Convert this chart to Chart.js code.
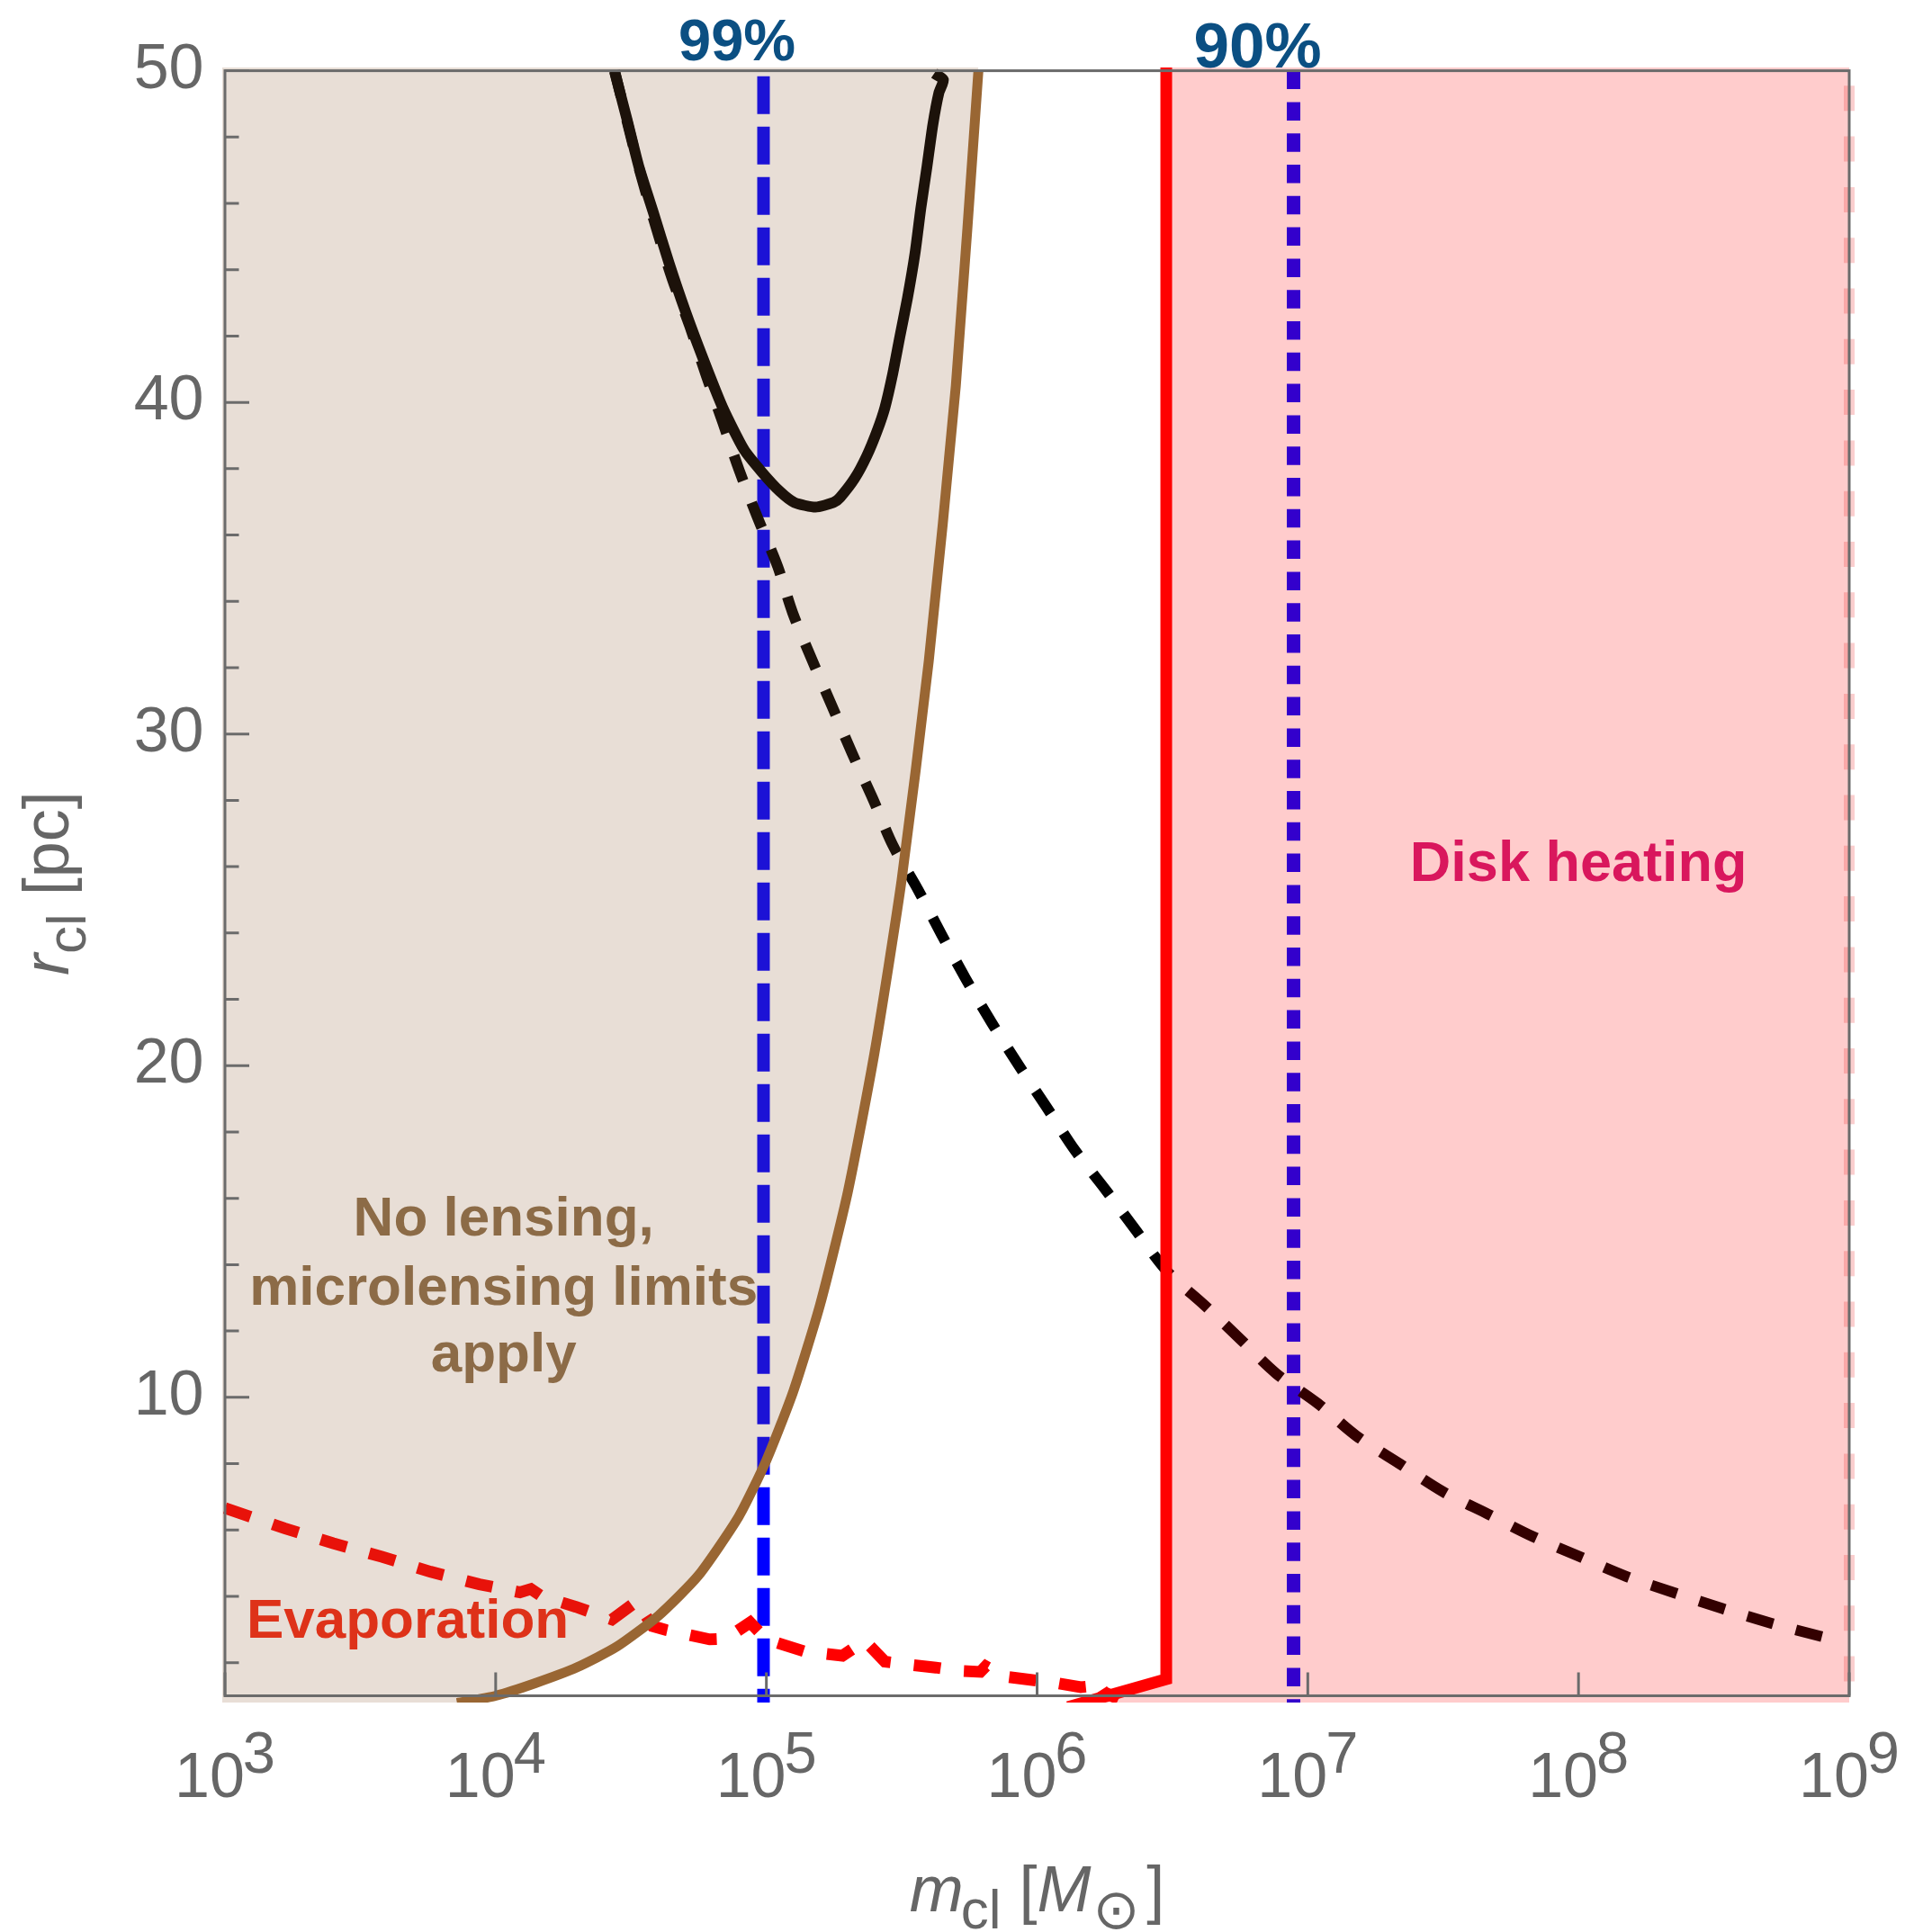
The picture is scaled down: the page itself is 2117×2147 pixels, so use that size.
<!DOCTYPE html>
<html>
<head>
<meta charset="utf-8">
<script src="https://cdn.jsdelivr.net/npm/chart.js@4.4.1/dist/chart.umd.min.js"></script>
<style>
  html, body { margin: 0; padding: 0; background: #ffffff; }
  #wrap { width: 2117px; height: 2147px; }
</style>
</head>
<body>
<div id="wrap"><canvas id="plot" width="2117" height="2147"></canvas></div>
<script>
// ---- cluster mass m_cl [M_sun] versus cluster radius r_cl [pc] ----

// edge of the region where clusters do not lens (microlensing limits apply)
const lensEdgeM = [7.2e3, 1.0e4, 1.4e4, 2.0e4, 2.8e4, 4.0e4, 5.6e4, 7.9e4, 1.0e5, 1.26e5, 1.58e5, 2.0e5, 2.51e5, 3.16e5, 3.98e5, 5.01e5, 6.07e5];
const lensEdgeR = [0.78, 1.0, 1.38, 1.86, 2.48, 3.42, 4.62, 6.40, 8.1, 10.2, 12.8, 16.2, 20.4, 25.6, 32.2, 40.5, 50.0];

// closed (solid black) contour
const contourM = [2.75e4, 3.05e4, 3.38e4, 3.85e4, 4.37e4, 5.02e4, 5.85e4, 6.90e4, 8.26e4, 9.62e4, 1.12e5, 1.27e5, 1.52e5, 1.77e5, 1.87e5, 2.12e5, 2.35e5, 2.57e5, 2.74e5, 2.92e5, 3.11e5, 3.32e5, 3.54e5, 3.72e5, 3.92e5, 4.12e5, 4.34e5, 4.51e5, 4.17e5];
const contourR = [49.97, 48.56, 47.11, 45.65, 44.20, 42.75, 41.30, 39.84, 38.58, 37.90, 37.32, 36.98, 36.84, 36.98, 37.13, 37.71, 38.39, 39.16, 39.84, 40.81, 41.97, 43.14, 44.49, 45.85, 47.11, 48.37, 49.34, 49.73, 49.92];

// dashed black contour
const openM = [2.75e4, 3.35e4, 3.94e4, 4.50e4, 5.21e4, 6.0e4, 6.9e4, 7.94e4, 9.25e4, 1.10e5, 1.25e5, 1.47e5, 1.75e5, 2.07e5, 2.47e5, 2.93e5, 3.63e5, 4.44e5, 5.46e5, 6.79e5, 8.57e5, 1.08e6, 1.38e6, 1.79e6, 2.31e6, 3.02e6, 4.15e6, 5.64e6, 7.64e6, 1.09e7, 1.51e7, 2.19e7, 3.18e7, 4.63e7, 6.75e7, 1.0e8, 1.5e8, 2.23e8, 3.40e8, 5.19e8, 7.87e8, 9.1e8];
const openR = [50.0, 47.2, 45.2, 43.7, 42.3, 40.8, 39.4, 37.95, 36.55, 35.06, 33.66, 32.26, 30.83, 29.43, 28.06, 26.65, 25.31, 23.95, 22.61, 21.3, 20.0, 18.77, 17.45, 16.26, 15.05, 13.8, 12.78, 11.75, 10.72, 9.81, 8.84, 7.99, 7.14, 6.48, 5.81, 5.21, 4.60, 4.12, 3.63, 3.18, 2.79, 2.68];

// evaporation limit
const evapM = [1.0e3, 1.66e3, 2.51e3, 3.80e3, 5.75e3, 8.71e3, 1.23e4, 1.35e4, 1.48e4, 1.98e4, 2.69e4, 3.31e4, 3.80e4, 4.27e4, 6.17e4, 7.08e4, 8.71e4, 1.0e5, 1.38e5, 1.91e5, 2.31e5, 2.74e5, 3.36e5, 4.23e5, 5.18e5, 6.17e5, 6.46e5, 7.59e5, 9.46e5, 1.17e6, 1.45e6, 1.62e6, 1.66e6, 1.76e6, 2.0e6];
const evapR = [6.66, 6.05, 5.60, 5.19, 4.74, 4.36, 4.12, 4.22, 4.00, 3.68, 3.30, 3.84, 3.10, 2.98, 2.70, 2.72, 3.21, 2.70, 2.34, 2.21, 2.66, 2.03, 1.94, 1.85, 1.75, 1.72, 1.89, 1.58, 1.48, 1.39, 1.26, 1.30, 1.44, 1.12, 0.90];

// disk heating limit
const diskM = [1.3e6, 3.0e6, 3.0e6];
const diskR = [0.66, 1.50, 50.1];

// confidence-level masses
const clNames = ['99%', '90%'];
const clMass = [9.76e4, 8.86e6];

// tick values
const xTickExp = [3, 4, 5, 6, 7, 8, 9];
const yMajor = [10, 20, 30, 40, 50];
const yMinor = [2, 4, 6, 8, 12, 14, 16, 18, 22, 24, 26, 28, 32, 34, 36, 38, 42, 44, 46, 48];

// ---- geometry ----
const W = 2117, H = 2147;
const X_RANGE = [1e3, 1e9], Y_RANGE = [1, 50];
const FRAME = { left: 250, right: 2055, top: 78.6, bottom: 1884.5 };
const AREA = { left: 247, right: 2062, top: 75, bottom: 1892 };
const lx0 = Math.log10(X_RANGE[0]), lx1 = Math.log10(X_RANGE[1]);
const kx = (lx1 - lx0) / (FRAME.right - FRAME.left);
const ky = (Y_RANGE[1] - Y_RANGE[0]) / (FRAME.bottom - FRAME.top);
const xMin = Math.pow(10, lx0 - (FRAME.left - AREA.left) * kx);
const xMax = Math.pow(10, lx1 + (AREA.right - FRAME.right) * kx);
const yMin = Y_RANGE[0] - (AREA.bottom - FRAME.bottom) * ky;
const yMax = Y_RANGE[1] + (FRAME.top - AREA.top) * ky;

const pts = (ms, rs) => ms.map((m, i) => ({ x: m, y: rs[i] }));

// region filled to the left of the lensing edge
const lensFill = [{ x: xMin, y: lensEdgeR[0] }].concat(pts(lensEdgeM, lensEdgeR), [{ x: lensEdgeM[lensEdgeM.length - 1], y: yMax }]);
// region filled to the right of the disk heating limit
const diskFill = pts(diskM, diskR).concat([{ x: X_RANGE[1], y: diskR[diskR.length - 1] }]);

const vline = (m, bottom) => [{ x: m, y: Y_RANGE[1] }, { x: m, y: bottom }];

const SANS = '"Liberation Sans", Arial, Helvetica, sans-serif';

const datasets = [
  { label: 'disk heating limit', data: pts(diskM, diskR), borderColor: '#ff0000', borderWidth: 13, fill: false, order: 1, borderJoinStyle: 'miter' },
  { label: 'lensing edge', data: pts(lensEdgeM, lensEdgeR), borderColor: '#996633', borderWidth: 11, tension: 0.2, fill: false, order: 2 },
  { label: 'lensing region', data: lensFill, borderWidth: 0, borderColor: 'rgba(0,0,0,0)', backgroundColor: 'rgba(140,90,50,0.2)', tension: 0.2, fill: 'end', order: 3 },
  { label: 'disk edge', data: vline(X_RANGE[1], Y_RANGE[0]), borderColor: 'rgba(235,60,60,0.25)', borderWidth: 12, borderDash: [28, 28.3], borderDashOffset: 39.6, borderCapStyle: 'butt', fill: false, order: 4 },
  { label: 'disk heating region', data: diskFill, borderWidth: 0, borderColor: 'rgba(0,0,0,0)', backgroundColor: 'rgba(255,0,0,0.2)', fill: 'start', order: 5 },
  { label: 'evaporation', data: pts(evapM, evapR), borderColor: '#ff0000', borderWidth: 13, borderDash: [30, 26], borderCapStyle: 'butt', fill: false, order: 6 },
  { label: 'closed contour', data: pts(contourM, contourR), borderColor: '#000000', borderWidth: 12, tension: 0.2, fill: false, order: 7 },
  { label: 'open contour', data: pts(openM, openR), borderColor: '#000000', borderWidth: 12, tension: 0.3, borderDash: [30, 26], borderCapStyle: 'butt', fill: false, order: 8 },
  { label: clNames[0], data: vline(clMass[0], yMin), borderColor: '#0000ff', borderWidth: 14, borderDash: [42, 14], borderDashOffset: 49.8, borderCapStyle: 'butt', fill: false, order: 9 },
  { label: clNames[1], data: vline(clMass[1], yMin), borderColor: '#0000ff', borderWidth: 15, borderDash: [20.5, 14.3], borderCapStyle: 'butt', fill: false, order: 10 }
];
datasets.forEach(d => { d.pointRadius = 0; d.clip = 0; if (d.tension === undefined) d.tension = 0; });

// text placed in data coordinates
const regionText = [
  { lines: ['No lensing,', 'microlensing limits', 'apply'], m: 1.07e4, r: [14.88, 12.79, 10.78], color: '#8c6b47', size: 62 },
  { lines: ['Evaporation'], m: 4.73e3, r: [2.75], color: '#de3219', size: 62 },
  { lines: ['Disk heating'], m: 1.0e8, r: [25.58], color: '#d9175d', size: 63 }
];
const clText = [
  { text: clNames[0], m: 7.79e4, r: 50.31, size: 65 },
  { text: clNames[1], m: 6.53e6, r: 50.10, size: 71 }
];

function drawRuns(ctx, runs, x, y, align) {
  let total = 0;
  runs.forEach(rn => { ctx.font = rn.font; rn.w = ctx.measureText(rn.t).width + (rn.kern || 0); total += rn.w; });
  let cx = align === 'center' ? x - total / 2 : x;
  runs.forEach(rn => {
    ctx.font = rn.font;
    ctx.fillText(rn.t, cx, y + (rn.dy || 0));
    cx += rn.w;
  });
}

const decor = {
  id: 'decor',
  afterDatasetsDraw(chart) {
    const { ctx } = chart;
    const xs = chart.scales.x, ys = chart.scales.y;
    const L = xs.getPixelForValue(X_RANGE[0]), R = xs.getPixelForValue(X_RANGE[1]);
    const T = ys.getPixelForValue(Y_RANGE[1]), B = ys.getPixelForValue(Y_RANGE[0]);
    ctx.save();

    // region labels
    ctx.textAlign = 'center';
    ctx.textBaseline = 'alphabetic';
    regionText.forEach(lab => {
      ctx.fillStyle = lab.color;
      ctx.font = 'bold ' + lab.size + 'px ' + SANS;
      const px = xs.getPixelForValue(lab.m);
      lab.lines.forEach((s, i) => ctx.fillText(s, px, ys.getPixelForValue(lab.r[i])));
    });
    ctx.fillStyle = '#0b4f82';
    clText.forEach(lab => {
      ctx.font = 'bold ' + lab.size + 'px ' + SANS;
      ctx.fillText(lab.text, xs.getPixelForValue(lab.m), ys.getPixelForValue(lab.r));
    });

    // frame
    ctx.strokeStyle = '#6b6b6b';
    ctx.lineWidth = 3;
    ctx.strokeRect(L, T, R - L, B - T);

    // ticks (inside the frame)
    ctx.beginPath();
    yMajor.forEach(v => { const py = ys.getPixelForValue(v); ctx.moveTo(L, py); ctx.lineTo(L + 27, py); });
    yMinor.forEach(v => { const py = ys.getPixelForValue(v); ctx.moveTo(L, py); ctx.lineTo(L + 15.5, py); });
    xTickExp.forEach(e => { const px = xs.getPixelForValue(Math.pow(10, e)); ctx.moveTo(px, B); ctx.lineTo(px, B - 26); });
    ctx.stroke();

    // tick labels
    ctx.fillStyle = '#666666';
    ctx.textAlign = 'right';
    ctx.font = '70px ' + SANS;
    yMajor.forEach(v => ctx.fillText(String(v), L - 23.5, ys.getPixelForValue(v) + 19));
    ctx.textAlign = 'left';
    xTickExp.forEach(e => {
      const px = xs.getPixelForValue(Math.pow(10, e));
      drawRuns(ctx, [
        { t: '10', font: '70px ' + SANS, kern: -2 },
        { t: String(e), font: '65px ' + SANS, dy: -27 }
      ], px, B + 112.5, 'center');
    });

    // axis titles
    drawRuns(ctx, [
      { t: 'm', font: 'italic 72px ' + SANS, kern: -3 },
      { t: 'cl', font: '62px ' + SANS, dy: 19 },
      { t: ' [', font: '72px ' + SANS },
      { t: 'M', font: 'italic 72px ' + SANS, kern: 2 },
      { t: '\u2299', font: '62px "DejaVu Sans", sans-serif', dy: 19, kern: 8 },
      { t: ']', font: '72px ' + SANS }
    ], (L + R) / 2, 2124, 'center');

    ctx.save();
    ctx.translate(76, (T + B) / 2);
    ctx.rotate(-Math.PI / 2);
    drawRuns(ctx, [
      { t: 'r', font: 'italic 72px ' + SANS },
      { t: 'cl', font: '62px ' + SANS, dy: 19 },
      { t: ' [pc]', font: '72px ' + SANS }
    ], 0, 0, 'center');
    ctx.restore();

    ctx.restore();
  }
};

new Chart(document.getElementById('plot'), {
  type: 'line',
  data: { datasets },
  options: {
    responsive: false,
    animation: false,
    devicePixelRatio: 1,
    layout: { padding: { left: AREA.left, right: W - AREA.right, top: AREA.top, bottom: H - AREA.bottom } },
    plugins: { legend: { display: false }, tooltip: { enabled: false }, filler: { propagate: false } },
    scales: {
      x: { type: 'logarithmic', display: false, min: xMin, max: xMax },
      y: { type: 'linear', display: false, min: yMin, max: yMax }
    }
  },
  plugins: [decor]
});
</script>
</body>
</html>
